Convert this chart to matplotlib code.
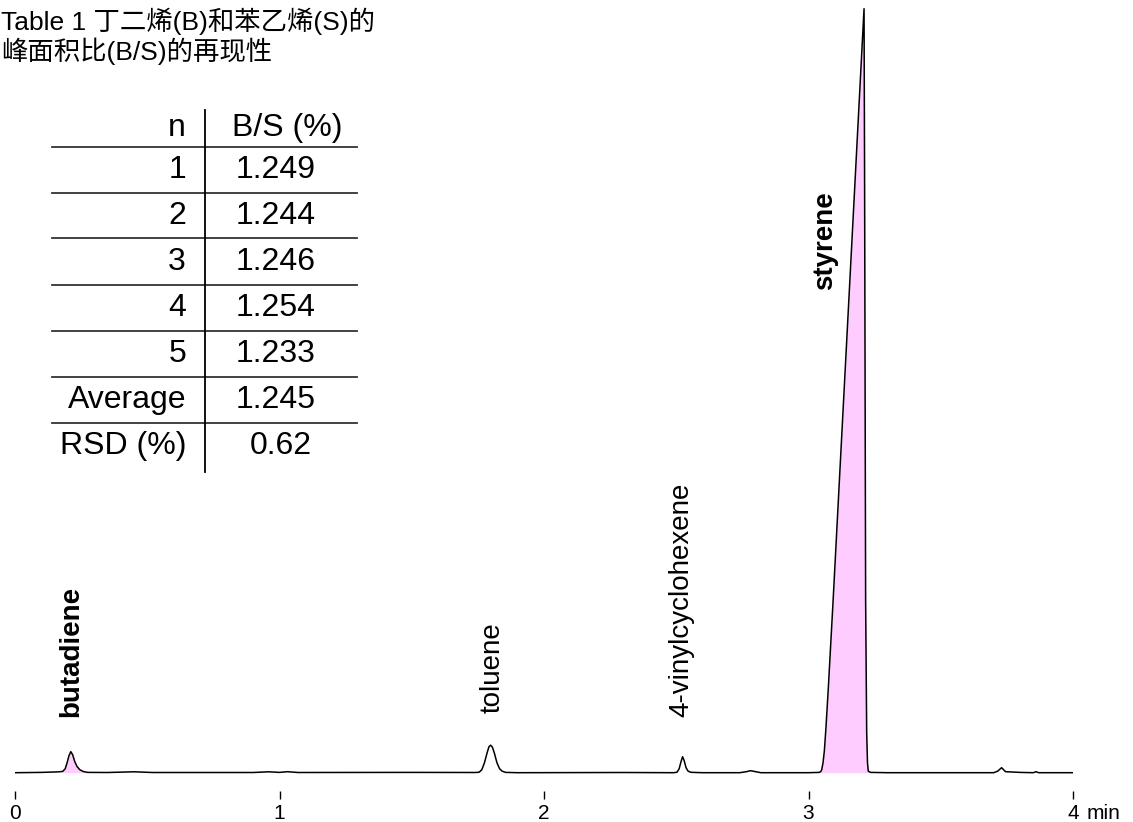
import matplotlib
matplotlib.use("Agg")
import matplotlib.pyplot as plt
import numpy as np

plt.rcParams['font.family'] = ['Liberation Sans', 'Noto Sans CJK SC', 'DejaVu Sans']

# chromatogram trace (time in min, signal in arbitrary units)
trace_t = [0.00, 0.10, 0.16, 0.180, 0.190, 0.197, 0.204, 0.211, 0.218, 0.226, 0.235, 0.245, 0.258, 0.275,
           0.35, 0.45, 0.52, 0.90, 0.96, 1.00, 1.03, 1.07, 1.50, 1.74,
           1.755, 1.765, 1.775, 1.785, 1.792, 1.798, 1.805, 1.813, 1.822, 1.832, 1.842, 1.855, 1.90,
           2.30, 2.49, 2.503, 2.511, 2.518, 2.524, 2.530, 2.537, 2.545, 2.555, 2.60,
           2.74, 2.765, 2.780, 2.795, 2.82, 3.00,
           3.040, 3.046, 3.050, 3.055, 3.060, 3.066, 3.075, 3.093, 3.150, 3.210,
           3.212, 3.216, 3.220, 3.223, 3.226, 3.235, 3.30, 3.70,
           3.715, 3.730, 3.745, 3.80, 3.85, 3.86, 3.87, 4.00]
trace_s = [0.0, 0.3, 0.8, 1.2, 4, 10, 17, 21, 18, 11, 6, 3, 1.2, 0.3,
           0.2, 0.9, 0.2, 0.2, 0.9, 0.3, 1.0, 0.2, 0.3, 0.2,
           0.5, 3, 10, 20, 26, 27.5, 25.5, 19, 10, 4, 1.5, 0.3, 0.0,
           0.2, 0.0, 0.5, 4, 11, 16, 12, 5, 1.5, 0.4, 0.0,
           0.0, 1.0, 2.0, 1.3, 0.0, 0.0,
           0.3, 1.0, 3, 10, 22, 45, 85, 172, 460, 764,
           600, 172, 40, 10, 1.5, 0.3, 0.0, 0.0,
           1.5, 5.0, 1.0, 0.3, 0.0, 1.0, 0.0, 0.0]

fill_ranges = [(0.180, 0.275), (3.040, 3.235)]

peak_names = ['butadiene', 'toluene', '4-vinylcyclohexene', 'styrene']
peak_label_t = [0.214, 1.805, 2.518, 3.062]
peak_label_s = [56, 60, 56, 483]
peak_bold = [True, False, False, True]

title = "Table 1 丁二烯(B)和苯乙烯(S)的\n峰面积比(B/S)的再现性"
col_n = ['n', '1', '2', '3', '4', '5', 'Average', 'RSD (%)']
col_bs = ['B/S (%)', '1.249', '1.244', '1.246', '1.254', '1.233', '1.245', '0.62']

W, H = 1133, 822
fig = plt.figure(figsize=(W / 100, H / 100), dpi=100)
ax = fig.add_axes([15 / W, (H - 791) / H, 1058 / W, 791 / H])

t = np.array(trace_t)
s = np.array(trace_s)
ax.plot(t, s, color='black', lw=1.1, zorder=3)
for a, b in fill_ranges:
    m = (t >= a) & (t <= b)
    ax.fill_between(t[m], s[m], 0, color='#ffccff', lw=0, zorder=2)

for name, x, y, bold in zip(peak_names, peak_label_t, peak_label_s, peak_bold):
    ax.text(x, y, name, rotation=90, ha='center', va='bottom', fontsize=20,
            fontweight='bold' if bold else 'normal')

ax.set_xlim(0, 4)
ax.set_ylim(-18.3, 772.7)
for sp in ax.spines.values():
    sp.set_visible(False)
ax.set_yticks([])
ax.set_xticks([0, 1, 2, 3, 4])
ax.set_xticklabels(['0', '1', '2', '3', '4'])
ax.tick_params(axis='x', direction='out', length=6, width=1, pad=3, labelsize=15)
ax.annotate('min', xy=(4, 0), xycoords=('data', 'axes fraction'), xytext=(9.5, -9.0),
            textcoords='offset points', ha='left', va='top', fontsize=15)


def px(x, y):
    return x / W, 1 - y / H


fig.text(*px(1, 8), title, ha='left', va='top', fontsize=19, linespacing=1.08)

# table
row_y = [128, 170, 216, 262, 308, 354, 400, 446]
bs_x = [287, 276, 276, 276, 276, 276, 276, 281]
for i, (a, b) in enumerate(zip(col_n, col_bs)):
    fig.text(*px(186, row_y[i]), a, ha='right', va='center', fontsize=23)
    fig.text(*px(bs_x[i], row_y[i]), b, ha='center', va='center', fontsize=23)
rule_y = [147, 193, 238, 285, 331, 377, 423]
for y in rule_y:
    fig.add_artist(plt.Line2D([52 / W, 357 / W], [1 - y / H, 1 - y / H], color='#333333', lw=1.3,
                              transform=fig.transFigure))
fig.add_artist(plt.Line2D([205 / W, 205 / W], [1 - 110 / H, 1 - 472 / H], color='black', lw=1.3,
                          transform=fig.transFigure))

fig.savefig('out.png', dpi=100)
